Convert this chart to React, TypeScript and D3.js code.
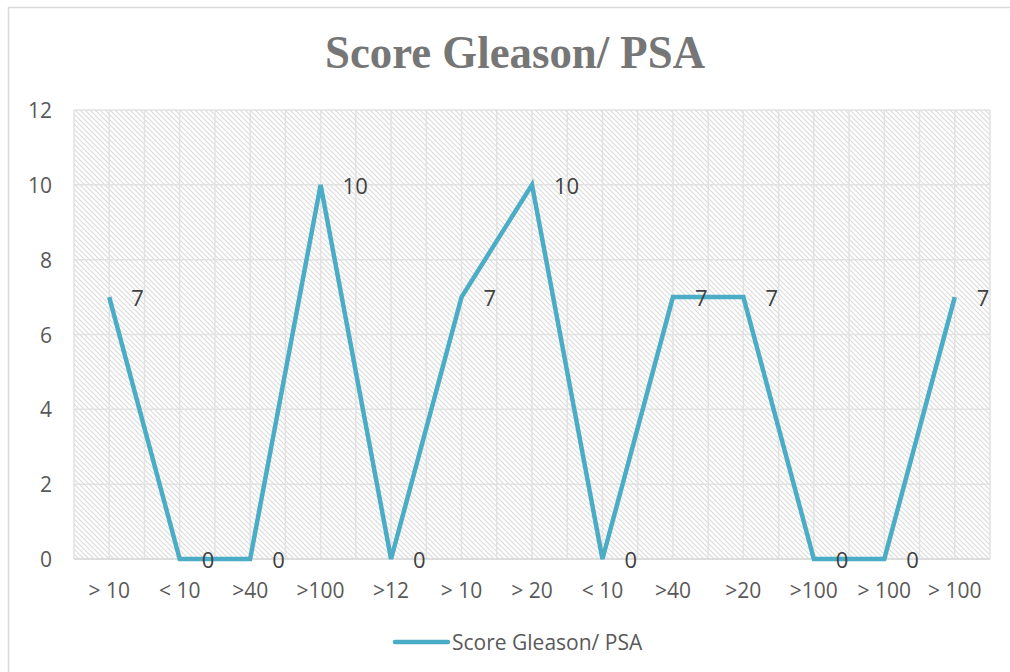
import React from "react";
import * as d3 from "d3";

const categories = ["> 10", "< 10", ">40", ">100", ">12", "> 10", "> 20", "< 10", ">40", ">20", ">100", "> 100", "> 100"];
const values = [7, 0, 0, 10, 0, 7, 10, 0, 7, 7, 0, 0, 7];
const yTicks = [0, 2, 4, 6, 8, 10, 12];
const seriesName = "Score Gleason/ PSA";
const title = "Score Gleason/ PSA";

const W = 1010;
const H = 672;
const plot = { left: 74, right: 990, top: 110, bottom: 559 };
const LINE = "#4bacc6";
const GRID = "#e2e2e2";
const TXT = "#595959";

export default function App() {
  const idx = categories.map((_, i) => i);
  const x = d3
    .scaleBand<number>()
    .domain(idx)
    .range([plot.left, plot.right])
    .paddingInner(0)
    .paddingOuter(0);
  const bw = x.bandwidth();
  const cx = (i: number) => (x(i) as number) + bw / 2;
  const y = d3.scaleLinear().domain([0, 12]).range([plot.bottom, plot.top]);

  const line = d3
    .line<number>()
    .x((_, i) => cx(i))
    .y((d) => y(d));

  const vLines: number[] = [];
  idx.forEach((i) => {
    vLines.push(x(i) as number);
    vLines.push(cx(i));
  });
  vLines.push(plot.right);

  return (
    <svg width={W} height={H} style={{ position: "absolute", left: 0, top: 0 }}>
      <defs>
        <pattern id="hatch" width="5" height="5" patternUnits="userSpaceOnUse">
          <rect width="5" height="5" fill="#ffffff" />
          <path d="M-1,-1 L6,6 M-1,4 L1,6 M4,-1 L6,1" stroke="#dcdcdc" strokeWidth="1.2" />
        </pattern>
      </defs>
      <rect x={0} y={0} width={W} height={H} fill="#ffffff" />
      <rect x={8.5} y={7.5} width={W + 10} height={H + 10} fill="#ffffff" stroke="#d9d9d9" strokeWidth={1.5} />
      <text
        x={515}
        y={68}
        textAnchor="middle"
        fontFamily="'Liberation Serif', 'DejaVu Serif', serif"
        fontWeight="bold"
        fontSize={46}
        fill="#767676"
        textLength={380}
        lengthAdjust="spacingAndGlyphs"
      >
        {title}
      </text>
      <rect
        x={plot.left}
        y={plot.top}
        width={plot.right - plot.left}
        height={plot.bottom - plot.top}
        fill="url(#hatch)"
      />
      {yTicks.map((t) => (
        <line key={"h" + t} x1={plot.left} x2={plot.right} y1={y(t)} y2={y(t)} stroke={GRID} strokeWidth={1.5} />
      ))}
      {vLines.map((v, k) => (
        <line key={"v" + k} x1={v} x2={v} y1={plot.top} y2={plot.bottom} stroke={GRID} strokeWidth={1.5} />
      ))}
      <line x1={plot.left} x2={plot.right} y1={plot.bottom} y2={plot.bottom} stroke="#d9d9d9" strokeWidth={1.5} />
      {yTicks.map((t) => (
        <text
          key={"yt" + t}
          x={52}
          y={y(t)}
          textAnchor="end"
          dominantBaseline="central"
          fontFamily="'Open Sans', sans-serif"
          fontSize={21}
          fill={TXT}
        >
          {t}
        </text>
      ))}
      {categories.map((c, i) => (
        <text
          key={"xc" + i}
          x={cx(i)}
          y={590}
          textAnchor="middle"
          dominantBaseline="central"
          fontFamily="'Open Sans', sans-serif"
          fontSize={21}
          fill={TXT}
        >
          {c}
        </text>
      ))}
      <path d={line(values) || ""} fill="none" stroke={LINE} strokeWidth={4.5} strokeLinejoin="miter" />
      {values.map((v, i) => (
        <text
          key={"dl" + i}
          x={cx(i) + 22}
          y={y(v)}
          textAnchor="start"
          dominantBaseline="central"
          fontFamily="'Open Sans', sans-serif"
          fontSize={22}
          fill="#404040"
        >
          {v}
        </text>
      ))}
      <line x1={395} x2={448} y1={642} y2={642} stroke={LINE} strokeWidth={4.5} strokeLinecap="round" />
      <text
        x={452}
        y={642}
        dominantBaseline="central"
        fontFamily="'Open Sans', sans-serif"
        fontSize={21}
        fill={TXT}
      >
        {seriesName}
      </text>
    </svg>
  );
}
